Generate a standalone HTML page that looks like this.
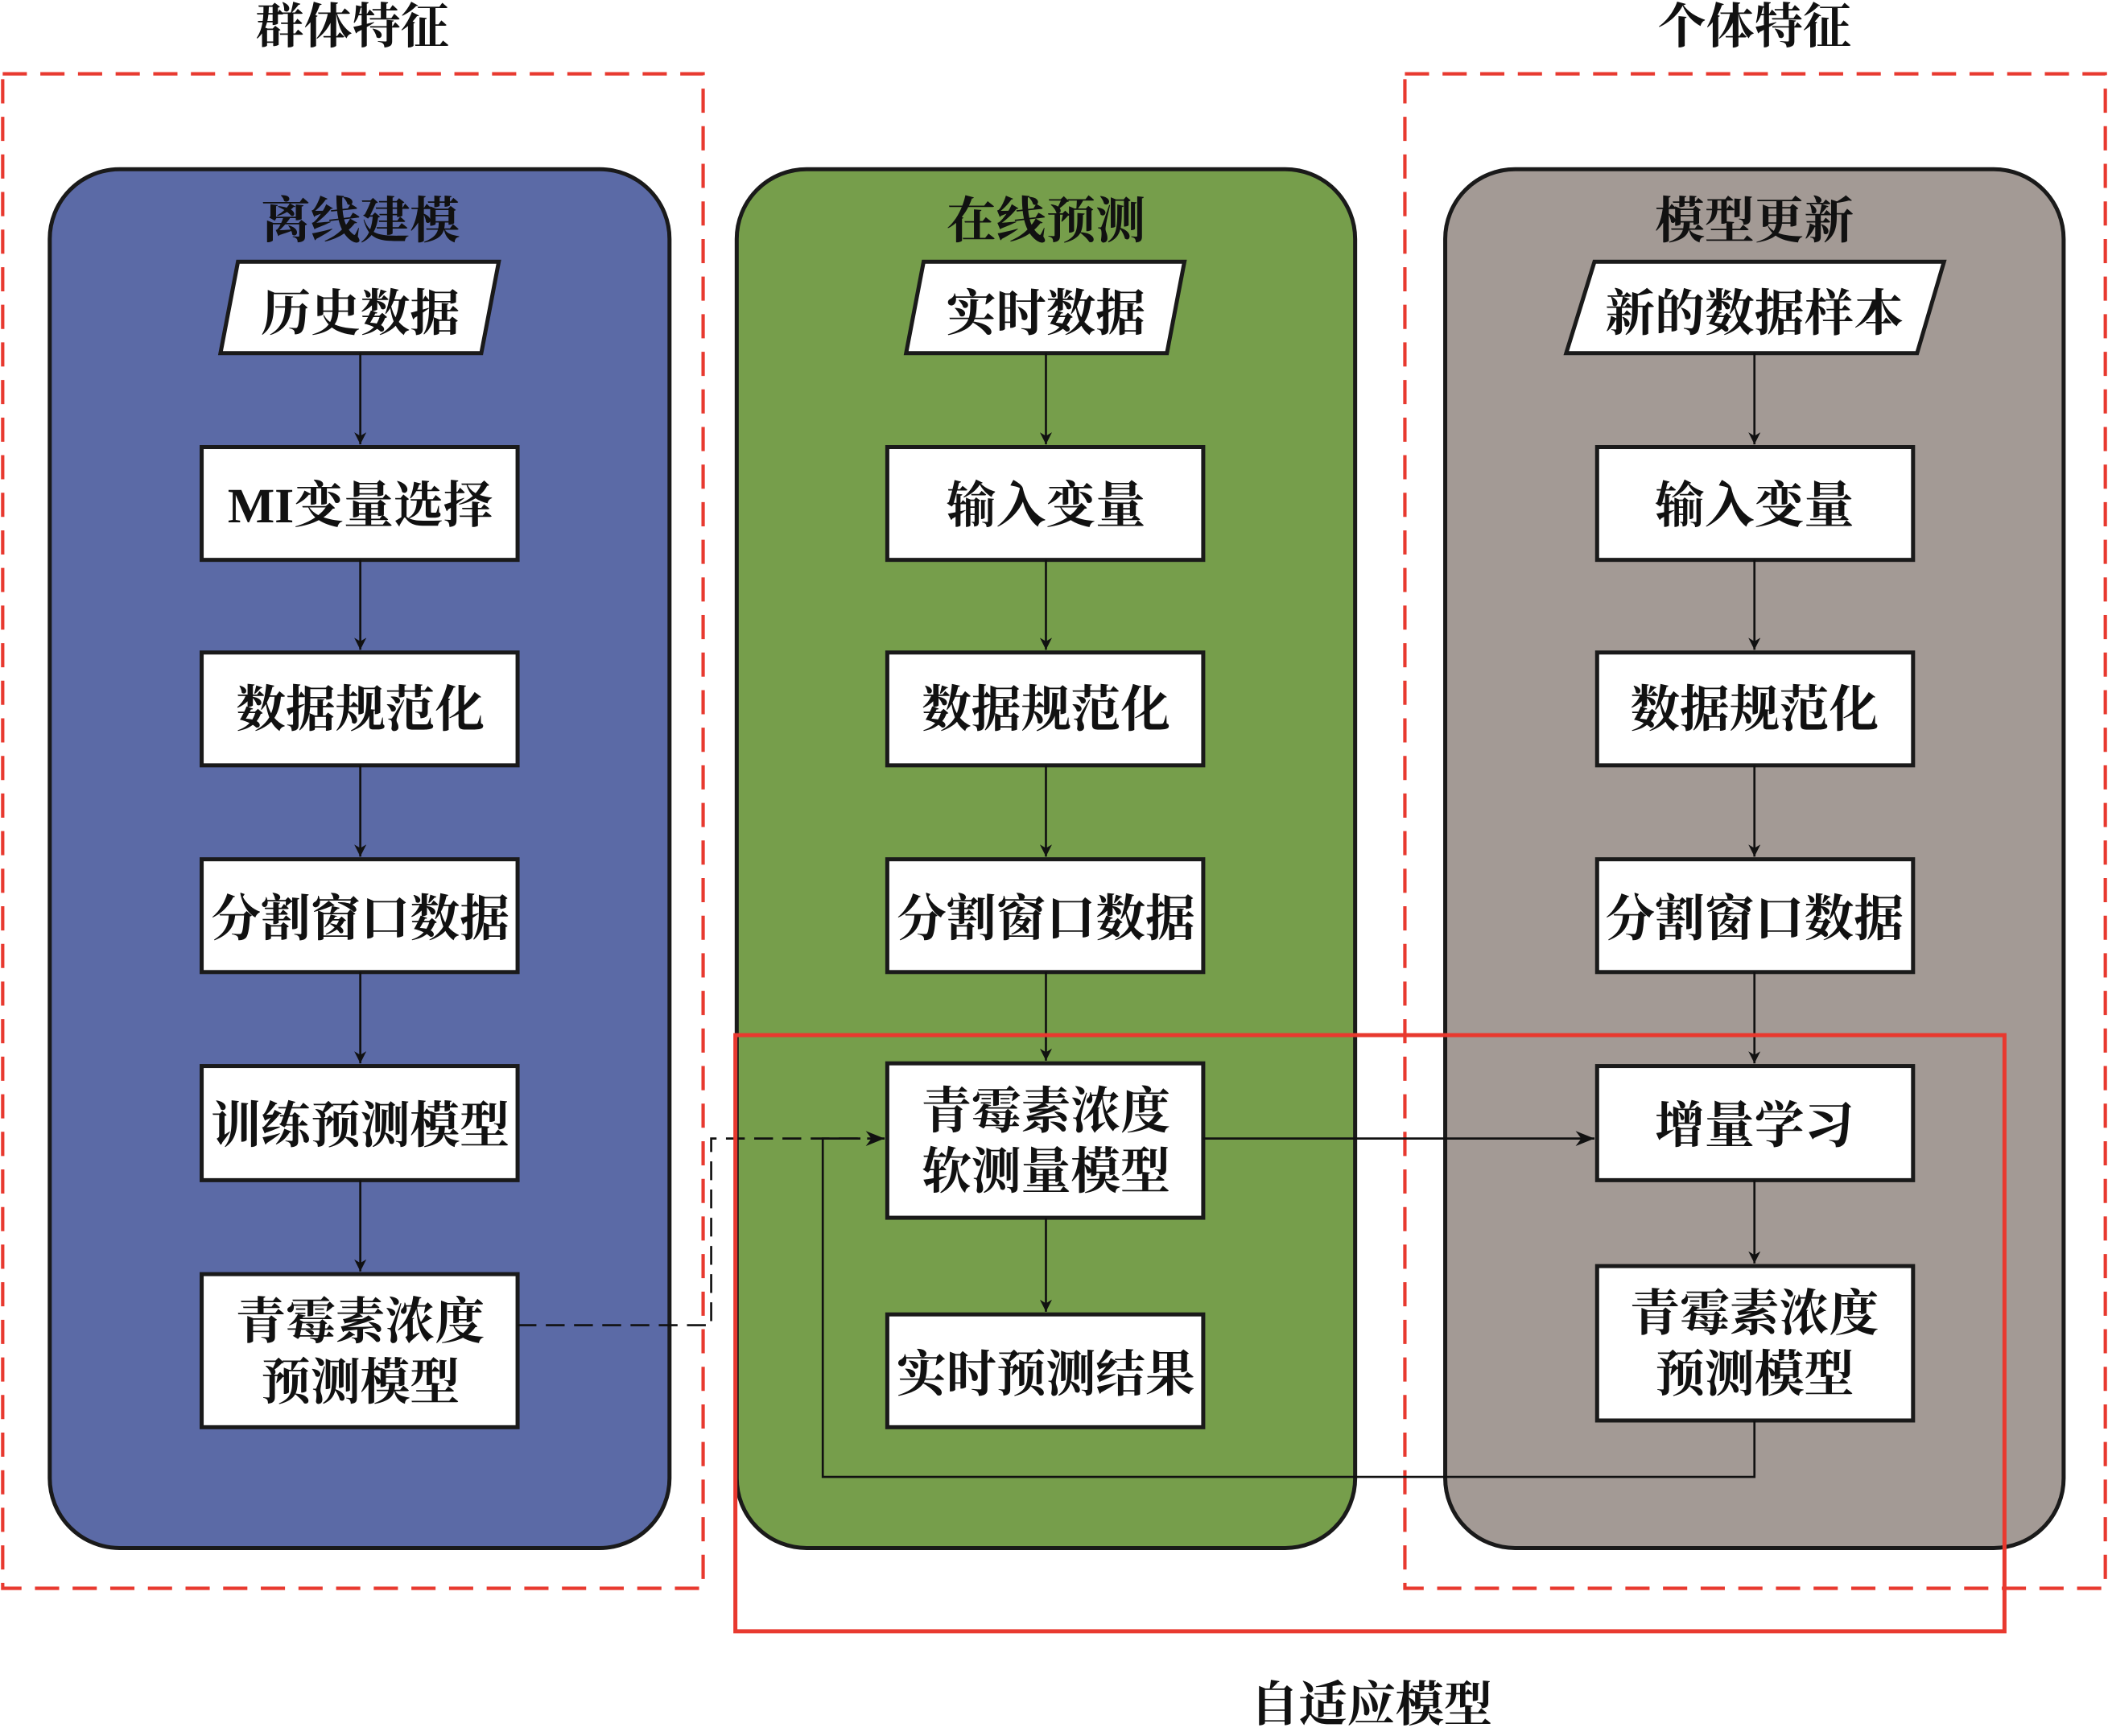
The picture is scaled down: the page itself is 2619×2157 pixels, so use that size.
<!DOCTYPE html>
<html><head><meta charset="utf-8"><style>
html,body{margin:0;padding:0;background:#fff;}
svg{display:block;}
text{font-family:"Liberation Serif","Noto Serif CJK SC","Noto Sans CJK SC",serif;fill:#111;text-anchor:middle;font-weight:bold;}
</style></head><body>
<svg width="2619" height="2157" viewBox="0 0 1568 1293" preserveAspectRatio="none" xmlns="http://www.w3.org/2000/svg">
<defs>
<marker id="a" viewBox="0 0 10 10" refX="10" refY="5" markerWidth="9" markerHeight="9" markerUnits="userSpaceOnUse" orient="auto"><path d="M0,0 L10,5 L0,10 L3,5 z" fill="#111"/></marker>
<marker id="b" viewBox="0 0 10 10" refX="10" refY="5" markerWidth="14" markerHeight="14" markerUnits="userSpaceOnUse" orient="auto"><path d="M0,1 L10,5 L0,9 L3,5 z" fill="#111"/></marker>
</defs>
<rect x="2" y="55" width="521" height="1128" fill="none" stroke="#e8392f" stroke-width="2.5" stroke-dasharray="18,10"/>
<rect x="1045" y="55" width="521" height="1128" fill="none" stroke="#e8392f" stroke-width="2.5" stroke-dasharray="18,10"/>
<text x="262" y="32" font-size="36">群体特征</text>
<text x="1305" y="32" font-size="36">个体特征</text>
<rect x="37" y="126" width="461" height="1027" rx="52" fill="#5b6aa6" stroke="#1a1a1a" stroke-width="3"/>
<rect x="548" y="126" width="460" height="1027" rx="52" fill="#769e4b" stroke="#1a1a1a" stroke-width="3"/>
<rect x="1075" y="126" width="460" height="1027" rx="52" fill="#a39a95" stroke="#1a1a1a" stroke-width="3"/>
<text x="268" y="177" font-size="37">离线建模</text>
<text x="778" y="177" font-size="37">在线预测</text>
<text x="1305" y="177" font-size="37">模型更新</text>
<g fill="#fff" stroke="#1a1a1a" stroke-width="3">
<polygon points="177,195 371,195 358,263 164,263"/>
<polygon points="687,195 881,195 868,263 674,263"/>
<polygon points="1186,195 1446,195 1426,263 1165,263"/>
</g>
<text x="268" y="246" font-size="37">历史数据</text>
<text x="778" y="246" font-size="37">实时数据</text>
<text x="1305" y="246" font-size="37">新的数据样本</text>
<g fill="#fff" stroke="#1a1a1a" stroke-width="3">
<rect x="150" y="333" width="235" height="84"/>
<rect x="150" y="486" width="235" height="84"/>
<rect x="150" y="640" width="235" height="84"/>
<rect x="150" y="794" width="235" height="85"/>
<rect x="150" y="949" width="235" height="114"/>
<rect x="660" y="333" width="235" height="84"/>
<rect x="660" y="486" width="235" height="84"/>
<rect x="660" y="640" width="235" height="84"/>
<rect x="660" y="792" width="235" height="115"/>
<rect x="660" y="979" width="235" height="84"/>
<rect x="1188" y="333" width="235" height="84"/>
<rect x="1188" y="486" width="235" height="84"/>
<rect x="1188" y="640" width="235" height="84"/>
<rect x="1188" y="794" width="235" height="85"/>
<rect x="1188" y="943" width="235" height="115"/>
</g>
<g font-size="37">
<text x="268" y="389">MI变量选择</text>
<text x="268" y="541">数据规范化</text>
<text x="268" y="697">分割窗口数据</text>
<text x="268" y="851">训练预测模型</text>
<text x="268" y="997">青霉素浓度</text>
<text x="268" y="1042">预测模型</text>
<text x="778" y="389">输入变量</text>
<text x="778" y="541">数据规范化</text>
<text x="778" y="697">分割窗口数据</text>
<text x="778" y="840">青霉素浓度</text>
<text x="778" y="885">软测量模型</text>
<text x="778" y="1036">实时预测结果</text>
<text x="1305" y="389">输入变量</text>
<text x="1305" y="541">数据规范化</text>
<text x="1305" y="697">分割窗口数据</text>
<text x="1305" y="851">增量学习</text>
<text x="1305" y="991">青霉素浓度</text>
<text x="1305" y="1036">预测模型</text>
</g>
<g stroke="#111" stroke-width="1.6" fill="none" marker-end="url(#a)">
<line x1="268" y1="263" x2="268" y2="331"/>
<line x1="268" y1="417" x2="268" y2="484"/>
<line x1="268" y1="570" x2="268" y2="638"/>
<line x1="268" y1="724" x2="268" y2="792"/>
<line x1="268" y1="879" x2="268" y2="947"/>
<line x1="778" y1="263" x2="778" y2="331"/>
<line x1="778" y1="417" x2="778" y2="484"/>
<line x1="778" y1="570" x2="778" y2="638"/>
<line x1="778" y1="724" x2="778" y2="790"/>
<line x1="778" y1="907" x2="778" y2="977"/>
<line x1="1305" y1="263" x2="1305" y2="331"/>
<line x1="1305" y1="417" x2="1305" y2="484"/>
<line x1="1305" y1="570" x2="1305" y2="638"/>
<line x1="1305" y1="724" x2="1305" y2="792"/>
<line x1="1305" y1="879" x2="1305" y2="941"/>
</g>
<polyline points="385,987 529,987 529,848 658,848" fill="none" stroke="#111" stroke-width="1.6" stroke-dasharray="14,7" marker-end="url(#b)"/>
<polyline points="1305,1058 1305,1100 612,1100 612,848 640,848" fill="none" stroke="#111" stroke-width="1.6"/>
<line x1="895" y1="848" x2="1186" y2="848" stroke="#111" stroke-width="1.6" marker-end="url(#b)"/>
<rect x="547" y="771" width="944" height="444" fill="none" stroke="#e8392f" stroke-width="3"/>
<text x="1020" y="1282" font-size="36">自适应模型</text>
</svg>
</body></html>
